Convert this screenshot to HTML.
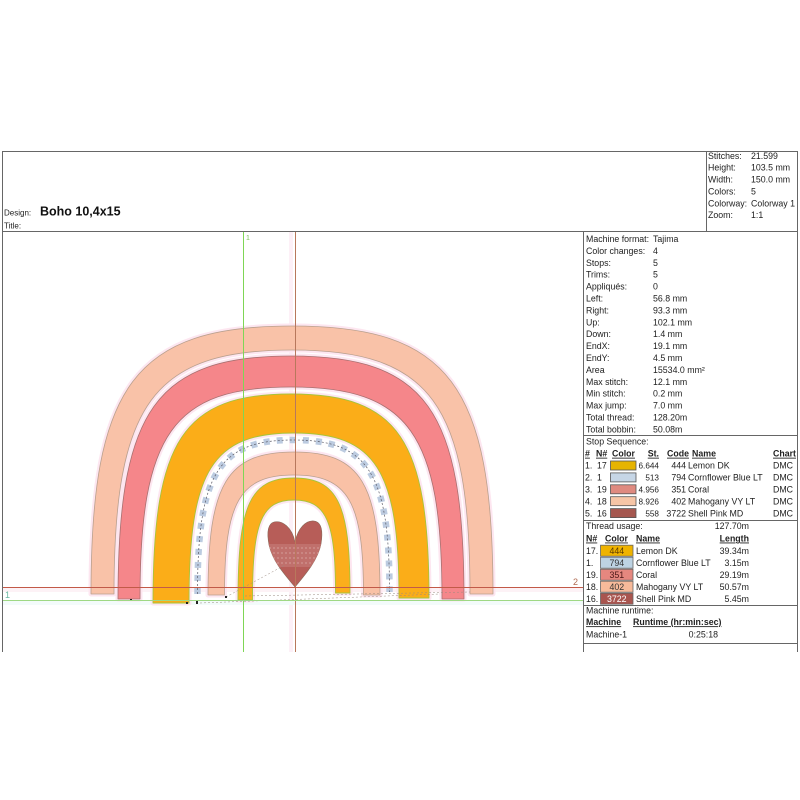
<!DOCTYPE html>
<html>
<head>
<meta charset="utf-8">
<style>
  html, body { margin:0; padding:0; background:#fff; }
  body { width:800px; height:800px; overflow:hidden; }
  svg { display:block; }
  text { font-family:"Liberation Sans", Arial, sans-serif; fill:#222; }
  .t { font-size:8.8px; }
  .n { font-size:8.2px; }
  .b { font-size:8.8px; font-weight:bold; text-decoration:underline; }
</style>
</head>
<body>
<svg width="800" height="800" viewBox="0 0 800 800" xmlns="http://www.w3.org/2000/svg">
  <rect x="0" y="0" width="800" height="800" fill="#fff"/>

  <!-- faint bands -->
  <rect x="289" y="232" width="4" height="420" fill="#fdf0f7"/>
  <rect x="3" y="588" width="580" height="4" fill="#fdf2f6"/>
  <rect x="3" y="601" width="580" height="4" fill="#f3fbfa"/>

  <defs>
    <clipPath id="heartClip">
      <path d="M295,542 C292,527 282,520 274,522 C267,524 267,534 269,545 C273,562 285,575 295,587 C305,575 318,560 321,544 C323,532 322,522 314,521 C306,520 298,528 295,542 Z"/>
    </clipPath>
  </defs>

  <g stroke-linejoin="round">
    <g fill="none" stroke="#fde6f0" stroke-width="5">
      <path d="M91,594 C91,385 135.2,326 292,326 C448.8,326 493,385 493,594 L470,594 C470,403.7 430.8,350 292,350 C153.2,350 114,403.7 114,594 Z"/>
      <path d="M118,599 C118,409.5 156.1,356 291,356 C425.9,356 464,409.5 464,599 L442,599 C442,433.6 408.8,387 291,387 C173.2,387 140,433.6 140,599 Z"/>
      <path d="M153,603 C153,440 183.4,394 291,394 C398.6,394 429,440 429,598 L399,598 C399,470.4 375.9,433 294,433 C212.1,433 189,470.4 189,603 Z"/>
      <path d="M208,595 C208,483.5 226.9,452 294,452 C361.1,452 380,483.5 380,595 L363.5,595 C363.5,501.4 348.2,475 294,475 C239.8,475 224.5,501.4 224.5,595 Z"/>
      <path d="M238,600 C238,504.6 250.3,478 294,478 C337.7,478 350,504.6 350,593 L335.5,593 C335.5,521.8 326.4,500 294,500 C261.6,500 252.5,521.8 252.5,600 Z"/>
    </g>

    <path d="M91,594 C91,385 135.2,326 292,326 C448.8,326 493,385 493,594 L470,594 C470,403.7 430.8,350 292,350 C153.2,350 114,403.7 114,594 Z" fill="#f9c2a8" stroke="#b9a08f" stroke-width="0.8"/>
    <path d="M118,599 C118,409.5 156.1,356 291,356 C425.9,356 464,409.5 464,599 L442,599 C442,433.6 408.8,387 291,387 C173.2,387 140,433.6 140,599 Z" fill="#f5868a" stroke="#a87070" stroke-width="0.8"/>
    <path d="M153,603 C153,440 183.4,394 291,394 C398.6,394 429,440 429,598 L399,598 C399,470.4 375.9,433 294,433 C212.1,433 189,470.4 189,603 Z" fill="#fbad18" stroke="#a8c43a" stroke-width="0.9"/>
    <path d="M208,595 C208,483.5 226.9,452 294,452 C361.1,452 380,483.5 380,595 L363.5,595 C363.5,501.4 348.2,475 294,475 C239.8,475 224.5,501.4 224.5,595 Z" fill="#f9c1a6" stroke="#b9a08f" stroke-width="0.8"/>
    <path d="M238,600 C238,504.6 250.3,478 294,478 C337.7,478 350,504.6 350,593 L335.5,593 C335.5,521.8 326.4,500 294,500 C261.6,500 252.5,521.8 252.5,600 Z" fill="#fbae1c" stroke="#a8c43a" stroke-width="0.9"/>
  </g>

  <!-- stars ring -->
  <path d="M197.5,594 C197.5,473.4 218.6,440 293.5,440 C368.4,440 389.5,473.4 389.5,592" fill="none" stroke="#bccbe0" stroke-width="6.5" stroke-dasharray="6 7"/>
  <path d="M197.5,594 C197.5,473.4 218.6,440 293.5,440 C368.4,440 389.5,473.4 389.5,592" fill="none" stroke="#5a5a66" stroke-width="0.7" stroke-dasharray="2 2"/>

  <!-- heart -->
  <path d="M295,542 C292,527 282,520 274,522 C267,524 267,534 269,545 C273,562 285,575 295,587 C305,575 318,560 321,544 C323,532 322,522 314,521 C306,520 298,528 295,542 Z" fill="#b75d58" stroke="#8a6a5a" stroke-width="0.6"/>
  <g clip-path="url(#heartClip)">
    <rect x="265" y="544" width="60" height="23" fill="#c0706c"/>
    <g stroke="#dcaaa8" stroke-width="0.7" stroke-dasharray="2 2" fill="none">
      <line x1="265" y1="548" x2="325" y2="548"/>
      <line x1="265" y1="553" x2="325" y2="553"/>
      <line x1="265" y1="558" x2="325" y2="558"/>
      <line x1="265" y1="563" x2="325" y2="563"/>
    </g>
  </g>

  <!-- jump stitches -->
  <g stroke="#9a8a80" stroke-width="0.5" fill="none" stroke-dasharray="2 2">
    <line x1="226" y1="597" x2="285" y2="565"/>
    <line x1="200" y1="603" x2="440" y2="594"/>
    <line x1="245" y1="596" x2="470" y2="592"/>
  </g>
  <g fill="#222">
    <rect x="130" y="599" width="2" height="2"/>
    <rect x="186" y="602" width="2" height="2"/>
    <rect x="196" y="601" width="2" height="3"/>
    <rect x="225" y="596" width="2" height="2"/>
  </g>

  <!-- guide lines -->
  <line x1="243.5" y1="232" x2="243.5" y2="652" stroke="#7fd655" stroke-width="1"/>
  <line x1="295.5" y1="232" x2="295.5" y2="652" stroke="#b8785c" stroke-width="1"/>
  <line x1="3" y1="587.5" x2="583" y2="587.5" stroke="#c25a48" stroke-width="1"/>
  <line x1="3" y1="600.5" x2="583" y2="600.5" stroke="#9fd884" stroke-width="1"/>
  <text x="246" y="240" style="font-size:7px;fill:#7cc45a">1</text>
  <text x="573" y="585" style="font-size:9px;fill:#b06a50">2</text>
  <text x="5" y="598" style="font-size:9px;fill:#6ab8a2">1</text>

  <!-- frame lines -->
  <g stroke="#666" stroke-width="1" fill="none">
    <line x1="2" y1="151.5" x2="798" y2="151.5"/>
    <line x1="2" y1="231.5" x2="798" y2="231.5"/>
    <line x1="2.5" y1="151" x2="2.5" y2="652"/>
    <line x1="797.5" y1="151" x2="797.5" y2="652"/>
    <line x1="706.5" y1="151" x2="706.5" y2="232"/>
    <line x1="583.5" y1="231" x2="583.5" y2="652"/>
    <line x1="583" y1="435.5" x2="798" y2="435.5"/>
    <line x1="583" y1="520.5" x2="798" y2="520.5"/>
    <line x1="583" y1="605.5" x2="798" y2="605.5"/>
    <line x1="583" y1="643.5" x2="798" y2="643.5"/>
  </g>

  <!-- top box -->
  <text x="4" y="215.5" style="font-size:8px">Design:</text>
  <text x="40" y="215.5" style="font-size:12.5px;font-weight:bold;fill:#111">Boho 10,4x15</text>
  <text x="4" y="228.5" style="font-size:8px">Title:</text>

  <text class="t" x="708" y="158.9">Stitches:</text><text class="t" x="751" y="158.9">21.599</text>
  <text class="t" x="708" y="170.7">Height:</text><text class="t" x="751" y="170.7">103.5 mm</text>
  <text class="t" x="708" y="182.6">Width:</text><text class="t" x="751" y="182.6">150.0 mm</text>
  <text class="t" x="708" y="194.5">Colors:</text><text class="t" x="751" y="194.5">5</text>
  <text class="t" x="708" y="206.4">Colorway:</text><text class="t" x="751" y="206.4">Colorway 1</text>
  <text class="t" x="708" y="218.2">Zoom:</text><text class="t" x="751" y="218.2">1:1</text>

  <!-- machine info -->
  <text class="t" x="586" y="242">Machine format:</text><text class="t" x="653" y="242">Tajima</text>
  <text class="t" x="586" y="253.9">Color changes:</text><text class="t" x="653" y="253.9">4</text>
  <text class="t" x="586" y="265.8">Stops:</text><text class="t" x="653" y="265.8">5</text>
  <text class="t" x="586" y="277.7">Trims:</text><text class="t" x="653" y="277.7">5</text>
  <text class="t" x="586" y="289.6">Appliqués:</text><text class="t" x="653" y="289.6">0</text>
  <text class="t" x="586" y="301.5">Left:</text><text class="t" x="653" y="301.5">56.8 mm</text>
  <text class="t" x="586" y="313.4">Right:</text><text class="t" x="653" y="313.4">93.3 mm</text>
  <text class="t" x="586" y="325.3">Up:</text><text class="t" x="653" y="325.3">102.1 mm</text>
  <text class="t" x="586" y="337.2">Down:</text><text class="t" x="653" y="337.2">1.4 mm</text>
  <text class="t" x="586" y="349.1">EndX:</text><text class="t" x="653" y="349.1">19.1 mm</text>
  <text class="t" x="586" y="361">EndY:</text><text class="t" x="653" y="361">4.5 mm</text>
  <text class="t" x="586" y="372.9">Area</text><text class="t" x="653" y="372.9">15534.0 mm²</text>
  <text class="t" x="586" y="384.8">Max stitch:</text><text class="t" x="653" y="384.8">12.1 mm</text>
  <text class="t" x="586" y="396.7">Min stitch:</text><text class="t" x="653" y="396.7">0.2 mm</text>
  <text class="t" x="586" y="408.6">Max jump:</text><text class="t" x="653" y="408.6">7.0 mm</text>
  <text class="t" x="586" y="420.5">Total thread:</text><text class="t" x="653" y="420.5">128.20m</text>
  <text class="t" x="586" y="432.4">Total bobbin:</text><text class="t" x="653" y="432.4">50.08m</text>

  <!-- stop sequence -->
  <text class="t" x="586" y="444.7">Stop Sequence:</text>
  <text class="b" x="585" y="456.7">#</text>
  <text class="b" x="596" y="456.7">N#</text>
  <text class="b" x="612" y="456.7">Color</text>
  <text class="b" x="659" y="456.7" text-anchor="end">St.</text>
  <text class="b" x="667" y="456.7">Code</text>
  <text class="b" x="692" y="456.7">Name</text>
  <text class="b" x="773" y="456.7">Chart</text>

  <g stroke="#555" stroke-width="0.8">
    <rect x="610.5" y="461" width="25.5" height="9" fill="#e6b400"/>
    <rect x="610.5" y="472.9" width="25.5" height="9" fill="#c6d6e6"/>
    <rect x="610.5" y="484.8" width="25.5" height="9" fill="#df8a80"/>
    <rect x="610.5" y="496.7" width="25.5" height="9" fill="#f6c5a6"/>
    <rect x="610.5" y="508.6" width="25.5" height="9" fill="#a5574f"/>
  </g>

  <text class="t" x="585" y="468.7">1.</text><text class="t" x="597" y="468.7">17</text><text class="n" x="659" y="468.7" text-anchor="end">6.644</text><text class="t" x="686" y="468.7" text-anchor="end">444</text><text class="t" x="688" y="468.7">Lemon DK</text><text class="t" x="773" y="468.7">DMC</text>
  <text class="t" x="585" y="480.6">2.</text><text class="t" x="597" y="480.6">1</text><text class="n" x="659" y="480.6" text-anchor="end">513</text><text class="t" x="686" y="480.6" text-anchor="end">794</text><text class="t" x="688" y="480.6">Cornflower Blue LT</text><text class="t" x="773" y="480.6">DMC</text>
  <text class="t" x="585" y="492.5">3.</text><text class="t" x="597" y="492.5">19</text><text class="n" x="659" y="492.5" text-anchor="end">4.956</text><text class="t" x="686" y="492.5" text-anchor="end">351</text><text class="t" x="688" y="492.5">Coral</text><text class="t" x="773" y="492.5">DMC</text>
  <text class="t" x="585" y="504.4">4.</text><text class="t" x="597" y="504.4">18</text><text class="n" x="659" y="504.4" text-anchor="end">8.926</text><text class="t" x="686" y="504.4" text-anchor="end">402</text><text class="t" x="688" y="504.4">Mahogany VY LT</text><text class="t" x="773" y="504.4">DMC</text>
  <text class="t" x="585" y="516.3">5.</text><text class="t" x="597" y="516.3">16</text><text class="n" x="659" y="516.3" text-anchor="end">558</text><text class="t" x="686" y="516.3" text-anchor="end">3722</text><text class="t" x="688" y="516.3">Shell Pink MD</text><text class="t" x="773" y="516.3">DMC</text>

  <!-- thread usage -->
  <text class="t" x="586" y="529.2">Thread usage:</text>
  <text class="t" x="749" y="529.2" text-anchor="end">127.70m</text>
  <text class="b" x="586" y="541.5">N#</text>
  <text class="b" x="605" y="541.5">Color</text>
  <text class="b" x="636" y="541.5">Name</text>
  <text class="b" x="749" y="541.5" text-anchor="end">Length</text>

  <g stroke="#666" stroke-width="0.8">
    <rect x="600.5" y="545.2" width="32.5" height="11" fill="#efb300"/>
    <rect x="600.5" y="557.2" width="32.5" height="11" fill="#bdd3e3"/>
    <rect x="600.5" y="569.2" width="32.5" height="11" fill="#e5877f"/>
    <rect x="600.5" y="581.2" width="32.5" height="11" fill="#f7ba9a"/>
    <rect x="600.5" y="593.2" width="32.5" height="11" fill="#a9554f"/>
  </g>
  <text class="t" x="616.8" y="553.8" text-anchor="middle" style="fill:#5a3a00">444</text>
  <text class="t" x="616.8" y="565.8" text-anchor="middle" style="fill:#333">794</text>
  <text class="t" x="616.8" y="577.8" text-anchor="middle" style="fill:#4a1818">351</text>
  <text class="t" x="616.8" y="589.8" text-anchor="middle" style="fill:#333">402</text>
  <text class="t" x="616.8" y="601.8" text-anchor="middle" style="fill:#fff">3722</text>

  <text class="t" x="586" y="553.8">17.</text><text class="t" x="636" y="553.8">Lemon DK</text><text class="t" x="749" y="553.8" text-anchor="end">39.34m</text>
  <text class="t" x="586" y="565.8">1.</text><text class="t" x="636" y="565.8">Cornflower Blue LT</text><text class="t" x="749" y="565.8" text-anchor="end">3.15m</text>
  <text class="t" x="586" y="577.8">19.</text><text class="t" x="636" y="577.8">Coral</text><text class="t" x="749" y="577.8" text-anchor="end">29.19m</text>
  <text class="t" x="586" y="589.8">18.</text><text class="t" x="636" y="589.8">Mahogany VY LT</text><text class="t" x="749" y="589.8" text-anchor="end">50.57m</text>
  <text class="t" x="586" y="601.8">16.</text><text class="t" x="636" y="601.8">Shell Pink MD</text><text class="t" x="749" y="601.8" text-anchor="end">5.45m</text>

  <!-- machine runtime -->
  <text class="t" x="586" y="613.7">Machine runtime:</text>
  <text class="b" x="586" y="625.2">Machine</text>
  <text class="b" x="633" y="625.2">Runtime (hr:min:sec)</text>
  <text class="t" x="586" y="637.7">Machine-1</text>
  <text class="t" x="718" y="637.7" text-anchor="end">0:25:18</text>
</svg>
</body>
</html>
